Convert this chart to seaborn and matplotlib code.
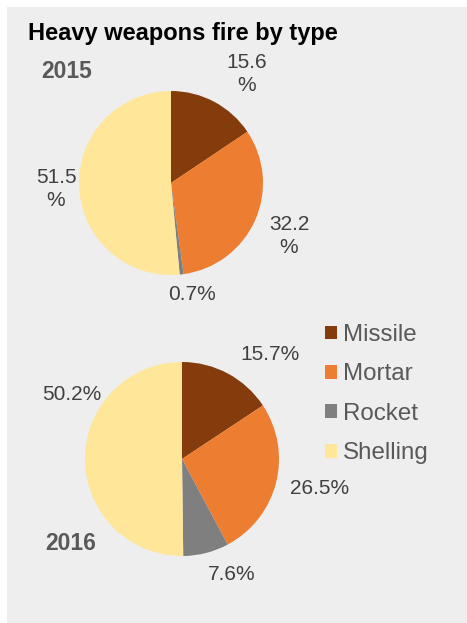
import matplotlib
matplotlib.use("Agg")
import matplotlib.pyplot as plt
from matplotlib.patches import Patch, Rectangle
import seaborn as sns

# ---- data ----
categories = ["Missile", "Mortar", "Rocket", "Shelling"]
share_2015 = [15.6, 32.2, 0.7, 51.5]
share_2016 = [15.7, 26.5, 7.6, 50.2]
years = ["2015", "2016"]
title = "Heavy weapons fire by type"

sns.set_theme(style="white")
plt.rcParams["font.family"] = ["Liberation Sans", "DejaVu Sans"]
palette = sns.color_palette(["#843C0C", "#ED7D31", "#7F7F7F", "#FFE699"])

W, H = 467, 623
fig = plt.figure(figsize=(W / 100, H / 100), dpi=100, facecolor="white")

# light grey panel behind everything
fig.patches.append(Rectangle((7 / W, 0), 1 - 7 / W, 1 - 7 / H,
                             transform=fig.transFigure, facecolor="#EEEEEE",
                             edgecolor="none", zorder=-10))


def fx(x):
    return x / W


def fy(y):
    return 1 - y / H


def pie_axes(cx, cy, r):
    ax = fig.add_axes([fx(cx - r), fy(cy + r), 2 * r / W, 2 * r / H])
    ax.axis("off")
    ax.patch.set_alpha(0)
    ax.set_zorder(1)
    return ax


# pie layout (centre x, centre y, radius in pixels)
pie_layout = [(171, 183, 92), (182, 459, 97)]
# label anchor points (pixels) and whether the % sign wraps to a new line
label_pos = [
    [(247, 74), (289, 236), (192, 295), (56, 189)],
    [(270, 354), (320, 488), (232, 574), (72, 394)],
]
label_wrap = [[True, True, False, True], [False, False, False, False]]
year_pos = [(41, 71), (45, 544)]

for values, (cx, cy, r), pos, wrap, yr, ypos in zip(
        [share_2015, share_2016], pie_layout, label_pos, label_wrap, years, year_pos):
    ax = pie_axes(cx, cy, r)
    ax.pie(values, colors=palette, startangle=90, counterclock=False, radius=1,
           wedgeprops=dict(linewidth=0))
    ax.set_xlim(-1, 1)
    ax.set_ylim(-1, 1)
    for v, (lx, ly), w in zip(values, pos, wrap):
        txt = f"{v}\n%" if w else f"{v}%"
        fig.text(fx(lx), fy(ly), txt, ha="center", va="center",
                 multialignment="center", fontsize=15, color="#404040",
                 linespacing=1.3)
    fig.text(fx(ypos[0]), fy(ypos[1]), yr, ha="left", va="center",
             fontsize=16.5, fontweight="bold", color="#595959")

fig.text(fx(28), fy(40), title, ha="left", va="baseline",
         fontsize=17, fontweight="bold", color="black")

handles = [Patch(facecolor=c, edgecolor="none") for c in palette]
fig.legend(handles, categories, loc="upper left",
           bbox_to_anchor=(fx(325), fy(324)), frameon=False, fontsize=17.4,
           handlelength=0.5, handleheight=0.5, handletextpad=0.25,
           labelspacing=0.72, borderpad=0, borderaxespad=0,
           labelcolor="#595959")

fig.savefig("out.png", dpi=100, facecolor="white")
